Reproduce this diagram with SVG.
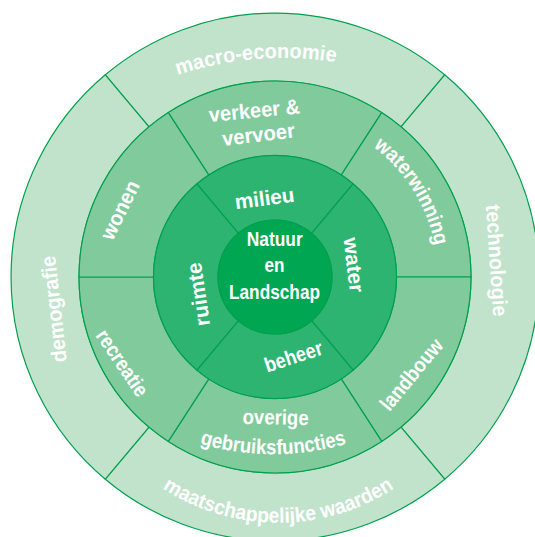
<svg xmlns="http://www.w3.org/2000/svg" width="535" height="537" viewBox="0 0 535 537">
<style>
.seg{stroke:#00a04f;stroke-width:1.2;stroke-linejoin:round}
.o{fill:#c1e3cb}
.m{fill:#81ca9c}
.i{fill:#2db470}
.c{fill:#00a651}
text{font-family:"Liberation Sans",Arial,Helvetica,sans-serif;font-weight:bold;font-size:21px;fill:#ffffff}
.ctr{font-size:20px}
</style>
<defs>
<path id="tp-macro" d="M119,101.5 A331,331 0 0 1 397.8,78.6"/>
<path id="tp-maat" d="M128.4,460.7 A212,212 0 0 0 428.2,460.7"/>
<path id="tp-water" d="M303.3,116.5 A163,163 0 0 1 431.7,321.9"/>
<path id="tp-gebr" d="M105.2,393.1 A261.5,261.5 0 0 0 441.4,393.1"/>
</defs>
<rect width="535" height="537" fill="#ffffff"/>

<g id="macro-economie">
<path class="seg o" d="M105.3,74.8 A264,264 0 0 1 444.7,74.8 L401,126.9 A196,196 0 0 0 149,126.9 Z"/>
<text><textPath href="#tp-macro" startOffset="50%" text-anchor="middle" textLength="160" lengthAdjust="spacingAndGlyphs">macro-economie</textPath></text>
</g>
<g id="technologie">
<path class="seg o" d="M444.7,74.8 A264,264 0 0 1 444.7,479.2 L401,427.1 A196,196 0 0 0 401,126.9 Z"/>
<text transform="translate(489.5,260.9) rotate(86.1)" text-anchor="middle" textLength="112" lengthAdjust="spacingAndGlyphs">technologie</text>
</g>
<g id="maatschappelijke-waarden">
<path class="seg o" d="M444.7,479.2 A264,264 0 0 1 105.3,479.2 L149,427.1 A196,196 0 0 0 401,427.1 Z"/>
<text><textPath href="#tp-maat" startOffset="50%" text-anchor="middle" textLength="245" lengthAdjust="spacingAndGlyphs">maatschappelijke waarden</textPath></text>
</g>
<g id="demografie">
<path class="seg o" d="M105.3,479.2 A264,264 0 0 1 105.3,74.8 L149,126.9 A196,196 0 0 0 149,427.1 Z"/>
<text transform="translate(60.9,308.4) rotate(-96.3)" text-anchor="middle" textLength="107" lengthAdjust="spacingAndGlyphs">demografie</text>
</g>

<g id="verkeer-vervoer">
<path class="seg m" d="M168.3,112.6 A196,196 0 0 1 381.7,112.6 L341.2,175.1 A121.5,121.5 0 0 0 208.8,175.1 Z"/>
<text transform="translate(255,117.7) rotate(-5.4)" text-anchor="middle" textLength="91.5" lengthAdjust="spacingAndGlyphs">verkeer &amp;</text>
<text transform="translate(259.2,141.7) rotate(-6.8)" text-anchor="middle" textLength="73" lengthAdjust="spacingAndGlyphs">vervoer</text>
</g>
<g id="waterwinning">
<path class="seg m" d="M381.7,112.6 A196,196 0 0 1 471,277 L396.5,277 A121.5,121.5 0 0 0 341.2,175.1 Z"/>
<text><textPath href="#tp-water" startOffset="50%" text-anchor="middle" textLength="119" lengthAdjust="spacingAndGlyphs">waterwinning</textPath></text>
</g>
<g id="landbouw">
<path class="seg m" d="M471,277 A196,196 0 0 1 381.7,441.4 L341.2,378.9 A121.5,121.5 0 0 0 396.5,277 Z"/>
<text transform="translate(416.9,379) rotate(-50.5)" text-anchor="middle" textLength="86" lengthAdjust="spacingAndGlyphs">landbouw</text>
</g>
<g id="overige-gebruiksfuncties">
<path class="seg m" d="M381.7,441.4 A196,196 0 0 1 168.3,441.4 L208.8,378.9 A121.5,121.5 0 0 0 341.2,378.9 Z"/>
<text transform="translate(275.5,424.5) rotate(1)" text-anchor="middle" textLength="66" lengthAdjust="spacingAndGlyphs">overige</text>
<text><textPath href="#tp-gebr" startOffset="50%" text-anchor="middle" textLength="149" lengthAdjust="spacingAndGlyphs">gebruiksfuncties</textPath></text>
</g>
<g id="recreatie">
<path class="seg m" d="M168.3,441.4 A196,196 0 0 1 79,277 L153.5,277 A121.5,121.5 0 0 0 208.8,378.9 Z"/>
<text transform="translate(116.3,366.9) rotate(56)" text-anchor="middle" textLength="76" lengthAdjust="spacingAndGlyphs">recreatie</text>
</g>
<g id="wonen">
<path class="seg m" d="M79,277 A196,196 0 0 1 168.3,112.6 L208.8,175.1 A121.5,121.5 0 0 0 153.5,277 Z"/>
<text transform="translate(126.4,213.1) rotate(-63.9)" text-anchor="middle" textLength="63" lengthAdjust="spacingAndGlyphs">wonen</text>
</g>

<g id="milieu">
<path class="seg i" d="M196.9,183.9 A121.5,121.5 0 0 1 353.1,183.9 L311.6,233.3 A57,57 0 0 0 238.4,233.3 Z"/>
<text transform="translate(265.4,205.5) rotate(-7.3)" text-anchor="middle" textLength="60" lengthAdjust="spacingAndGlyphs">milieu</text>
</g>
<g id="water">
<path class="seg i" d="M353.1,183.9 A121.5,121.5 0 0 1 353.1,370.1 L311.6,320.7 A57,57 0 0 0 311.6,233.3 Z"/>
<text transform="translate(346.7,265.8) rotate(83.1)" text-anchor="middle" textLength="55" lengthAdjust="spacingAndGlyphs">water</text>
</g>
<g id="beheer">
<path class="seg i" d="M353.1,370.1 A121.5,121.5 0 0 1 196.9,370.1 L238.4,320.7 A57,57 0 0 0 311.6,320.7 Z"/>
<text transform="translate(295.7,363.4) rotate(-18.3)" text-anchor="middle" textLength="60" lengthAdjust="spacingAndGlyphs">beheer</text>
</g>
<g id="ruimte">
<path class="seg i" d="M196.9,370.1 A121.5,121.5 0 0 1 196.9,183.9 L238.4,233.3 A57,57 0 0 0 238.4,320.7 Z"/>
<text transform="translate(205.4,293.3) rotate(-98.4)" text-anchor="middle" textLength="64" lengthAdjust="spacingAndGlyphs">ruimte</text>
</g>

<g id="natuur-en-landschap">
<circle class="seg c" cx="275" cy="277" r="57"/>
<text class="ctr" x="274.7" y="245.5" text-anchor="middle" textLength="56" lengthAdjust="spacingAndGlyphs">Natuur</text>
<text class="ctr" x="274.4" y="272" text-anchor="middle" textLength="20" lengthAdjust="spacingAndGlyphs">en</text>
<text class="ctr" x="274.5" y="298.5" text-anchor="middle" textLength="91" lengthAdjust="spacingAndGlyphs">Landschap</text>
</g>
</svg>
